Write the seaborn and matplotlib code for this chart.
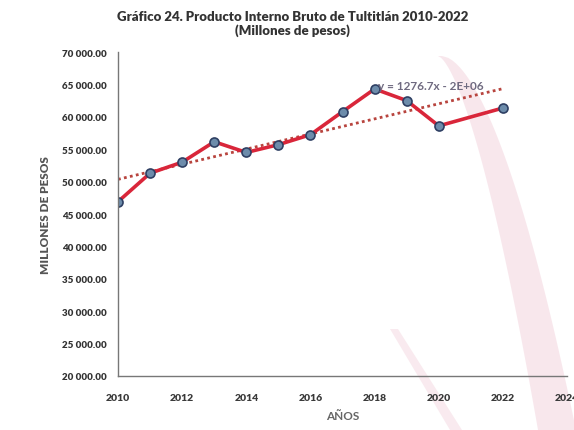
import matplotlib
matplotlib.use("Agg")
import matplotlib.pyplot as plt
import seaborn as sns
import pandas as pd
import numpy as np
from matplotlib.ticker import FuncFormatter
from matplotlib.patches import Polygon

years = [2010, 2011, 2012, 2013, 2014, 2015, 2016, 2017, 2018, 2019, 2020, 2022]
pib = [46900, 51300, 53000, 56150, 54500, 55700, 57240, 60800, 64300, 62500, 58600, 61360]
x_ticks = [2010, 2012, 2014, 2016, 2018, 2020, 2022, 2024]
y_ticks = [20000, 25000, 30000, 35000, 40000, 45000, 50000, 55000, 60000, 65000, 70000]
title = "Gráfico 24. Producto Interno Bruto de Tultitlán 2010-2022\n(Millones de pesos)"
trend_label = "y = 1276.7x - 2E+06"

df = pd.DataFrame({"anio": years, "pib": pib})

sns.set_style("white")
plt.rcParams["font.family"] = ["Lato", "DejaVu Sans"]

W, H = 574, 431
fig = plt.figure(figsize=(W / 100, H / 100), dpi=100)

# faint pink watermark swooshes (decorative background)
t = np.linspace(0, 1, 60)
lx = 438 + 100 * t ** 0.85
ly = 57 + 374 * t ** 1.3
rx = 442 + 134 * t ** 0.75
ry = 57 + 374 * t ** 1.3
pts = np.column_stack([np.concatenate([lx, rx[::-1]]) / W, 1 - np.concatenate([ly, ry[::-1]]) / H])
fig.add_artist(Polygon(pts, closed=True, facecolor="#ecbccb", edgecolor="none", alpha=0.35,
                       transform=fig.transFigure, zorder=0))
cx = np.array([390, 398, 462, 450])
cy = np.array([330, 330, 431, 431])
fig.add_artist(Polygon(np.column_stack([cx / W, 1 - cy / H]), closed=True, facecolor="#ecbccb",
                       edgecolor="none", alpha=0.3, transform=fig.transFigure, zorder=0))

ax = fig.add_axes([0.2056, 0.1253, 0.7824, 0.7517])
ax.patch.set_alpha(0)

sns.regplot(data=df, x="anio", y="pib", scatter=False, ci=None, truncate=True,
            line_kws=dict(color="#b8443e", linestyle=(0, (1, 1.2)), linewidth=2.0), ax=ax)
sns.lineplot(data=df, x="anio", y="pib", color="#d9263a", linewidth=2.6,
             marker="o", markersize=6.5, markerfacecolor="#6d8cab",
             markeredgecolor="#2e3f63", markeredgewidth=1.2, ax=ax)

ax.text(2018.1, 64900, trend_label, fontsize=8.5, color="#6f6a80", va="center", ha="left",
        fontweight="bold")

ax.set_xlim(2010, 2024)
ax.set_ylim(20000, 70000)
ax.set_xticks(x_ticks)
ax.set_yticks(y_ticks)
ax.yaxis.set_major_formatter(FuncFormatter(lambda v, p: f"{int(v):,}".replace(",", " ") + ".00"))
ax.tick_params(axis="y", length=0, labelsize=7, labelcolor="#333333", pad=8)
ax.tick_params(axis="x", length=0, labelsize=7.5, labelcolor="#3a3a3a", pad=12)
for lab in ax.get_xticklabels() + ax.get_yticklabels():
    lab.set_fontweight("heavy")

ax.set_xlabel("AÑOS", fontsize=8.5, color="#666666", fontweight="bold", labelpad=6)
ax.set_ylabel("MILLONES DE PESOS", fontsize=8.5, color="#555555", fontweight="heavy", labelpad=8)

for s in ["top", "right"]:
    ax.spines[s].set_visible(False)
for s in ["left", "bottom"]:
    ax.spines[s].set_color("#777777")
    ax.spines[s].set_linewidth(1.0)

fig.suptitle(title, x=0.51, y=0.975, fontsize=9.5, fontweight="heavy", color="#333333", linespacing=1.15)

fig.savefig("out.png", dpi=100, facecolor="white")
